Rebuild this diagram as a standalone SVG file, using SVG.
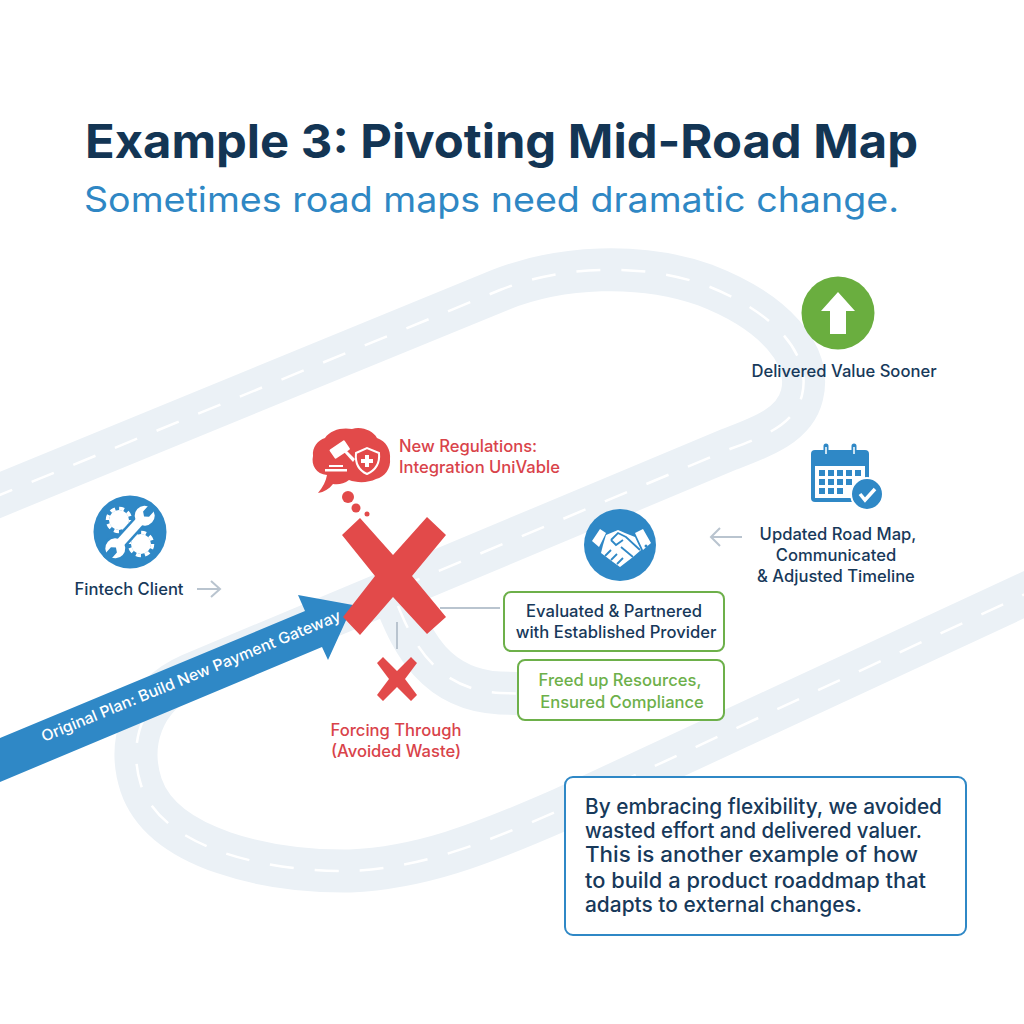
<svg xmlns="http://www.w3.org/2000/svg" width="1024" height="1024" viewBox="0 0 1024 1024">
<defs><style>
text{font-family:"Inter","Liberation Sans",sans-serif}
.road{fill:none;stroke:#ebf1f6;stroke-width:43}
.dash{fill:none;stroke:#fff;stroke-width:2.5;stroke-dasharray:24 21}
.con{fill:none;stroke:#b9c4cf;stroke-width:2}
.navy{fill:#17395a;font-weight:550;font-size:16.6px;text-anchor:middle}
.red{fill:#d9434a;font-weight:550;font-size:16.6px}
.box{fill:#fff;stroke:#6db04a;stroke-width:2}
</style></defs>
<rect width="1024" height="1024" fill="#fff"/>
<g id="roads">
<path class="road" d="M-10 499L500 290C560 266 640 262 705 285C775 312 812 355 802 395C795 425 762 437 730 449L190 675C140 697 128 745 141 785C163 850 270 872 350 871C420 868 480 845 560 810L1034 590"/>
<path class="road" d="M398 606C412 640 435 690 500 693L570 695"/>
<path class="dash" d="M-10 499L500 290C560 266 640 262 705 285C775 312 812 355 802 395C795 425 762 437 730 449L190 675C140 697 128 745 141 785C163 850 270 872 350 871C420 868 480 845 560 810L1034 590"/>
<path class="dash" d="M398 606C412 640 435 690 500 693L570 695"/>
</g>
<g id="title">
<text x="85" y="158" font-size="47" font-weight="700" fill="#133554" textLength="833" lengthAdjust="spacingAndGlyphs">Example 3: Pivoting Mid-Road Map</text>
<text x="84" y="212" font-size="35" fill="#2f87c4" textLength="815" lengthAdjust="spacingAndGlyphs">Sometimes road maps need dramatic change.</text>
</g>
<g id="connectors">
<path class="con" d="M197 589H219M211 581L220 589L211 597"/>
<path class="con" d="M742 537H711M720 528L711 537L720 546"/>
<path class="con" d="M397 622V649"/>
<path class="con" d="M440 608H500"/>
</g>
<g id="plan-arrow">
<polygon points="0,738 305,611 298,595 353,605 328,660 322,647 0,782" fill="#2f88c6"/>
<text transform="translate(193 681) rotate(-22.3)" text-anchor="middle" font-size="15.5" font-weight="500" fill="#fff" textLength="322" lengthAdjust="spacingAndGlyphs">Original Plan: Build New Payment Gateway</text>
</g>
<g id="fintech">
<circle cx="130" cy="532" r="36.5" fill="#2f88c6"/>
<g fill="#fff" stroke="#fff">
<circle cx="119" cy="520" r="10" stroke="none"/><circle cx="119" cy="520" r="11.5" fill="none" stroke-width="3.5" stroke-dasharray="5 4"/>
<circle cx="141" cy="544" r="10" stroke="none"/><circle cx="141" cy="544" r="11.5" fill="none" stroke-width="3.5" stroke-dasharray="5 4"/>
</g>
<g transform="translate(130 532) rotate(42)">
<rect x="-7" y="-24" width="14" height="48" fill="#2f88c6"/>
<circle cy="-22" r="12" fill="#2f88c6"/><circle cy="22" r="12" fill="#2f88c6"/>
<rect x="-4.5" y="-22" width="9" height="44" fill="#fff"/>
<circle cy="-22" r="10" fill="#fff"/><circle cy="22" r="10" fill="#fff"/>
<path d="M-4 -36H4V-24L0 -21L-4 -24ZM-4 36H4V24L0 21L-4 24Z" fill="#2f88c6"/>
</g>
<text class="navy" x="129" y="595">Fintech Client</text>
</g>
<g id="regulations">
<path d="M318 493C323 487 326 481 327 475C316 474 311 465 313 456C312 447 318 440 325 438C330 430 342 427 352 429C362 426 373 431 377 438C386 441 391 450 390 459C391 468 385 477 376 479C368 483 357 483 349 480C344 484 338 485 333 484C329 489 324 492 318 493Z" fill="#e24a4a"/>
<circle cx="348" cy="497" r="6" fill="#e24a4a"/><circle cx="356" cy="508" r="4.5" fill="#e24a4a"/><circle cx="367" cy="514" r="2.5" fill="#e24a4a"/>
<g fill="#fff">
<rect x="331" y="444" width="18" height="11" rx="1" transform="rotate(-34 340 450)"/>
<path d="M344 452L346 450L355 459L353 462Z"/>
<rect x="329" y="465" width="14" height="2"/><rect x="325" y="469" width="22" height="2.5"/>
</g>
<path d="M356 453L367 448L379 453C380 463 376 470 367 474C358 470 355 463 356 453Z" fill="#e24a4a" stroke="#fff" stroke-width="2"/>
<path d="M365 455H369V459H373V463H369V467H365V463H361V459H365Z" fill="#fff"/>
<text class="red" x="399" y="452">New Regulations:</text>
<text class="red" x="399" y="473">Integration UniVable</text>
</g>
<g id="big-x"><polygon points="360,518 393,555 427,517 446,535 412,576 446,617 427,634 393,597 360,635 343,617 375,576 342,535" fill="#e24a4a"/></g>
<g id="forcing">
<polygon points="383,657 397,671 411,657 417,663 405,679 417,695 411,701 397,687 383,701 377,695 389,679 377,663" fill="#e24a4a"/>
<text class="red" x="396" y="736" text-anchor="middle">Forcing Through</text>
<text class="red" x="396" y="757" text-anchor="middle">(Avoided Waste)</text>
</g>
<g id="partner">
<circle cx="620" cy="545" r="36" fill="#2f88c6"/>
<path d="M606 535L618 530L625 533L635 537L641 550L633 557L620 567L613 562L601 553L603 545Z" fill="#fff"/>
<path d="M592 541L600 529L606 533L599 547ZM635 533L643 529L651 543L643 550Z" fill="#fff"/>
<circle cx="646" cy="546" r="1.5" fill="#2f88c6"/>
<path d="M611 540L618 533L626 537L640 550M611 540L616 545L623 540M621 547L633 557M605 556L611 550M611 560L617 554M617 564L623 558" fill="none" stroke="#2f88c6" stroke-width="1.8"/>
</g>
<g id="evaluated">
<rect class="box" x="504" y="592" width="220" height="59" rx="7"/>
<text class="navy" x="614" y="617">Evaluated &amp; Partnered</text>
<text class="navy" x="616" y="638">with Established Provider</text>
</g>
<g id="freed">
<rect class="box" x="518" y="660" width="206" height="60" rx="7"/>
<text class="navy" x="620" y="686" style="fill:#6db04a">Freed up Resources,</text>
<text class="navy" x="622" y="708" style="fill:#6db04a">Ensured Compliance</text>
</g>
<g id="delivered">
<circle cx="838" cy="313" r="36.5" fill="#6aae3f"/>
<polygon points="838,292 855,311 846,311 846,334 830,334 830,311 821,311" fill="#fff"/>
<text class="navy" x="844" y="377">Delivered Value Sooner</text>
</g>
<g id="updated">
<rect x="811" y="450" width="58" height="52" rx="4" fill="#2f88c6"/>
<rect x="815" y="466" width="50" height="32" fill="#fff"/>
<path fill="#2f88c6" d="M819 470h6v6h-6zM828 470h6v6h-6zM837 470h6v6h-6zM846 470h6v6h-6zM855 470h6v6h-6zM819 479h6v6h-6zM828 479h6v6h-6zM837 479h6v6h-6zM846 479h6v6h-6zM819 488h6v6h-6zM828 488h6v6h-6zM837 488h6v6h-6z"/>
<path d="M826 446V456M854 446V456" stroke="#2f88c6" stroke-width="5" stroke-linecap="round"/>
<path d="M826 447V454M854 447V454" stroke="#fff" stroke-width="1.5"/>
<circle cx="867" cy="494" r="16" fill="#2f88c6" stroke="#fff" stroke-width="2"/>
<path d="M860 494L865 500L875 489" fill="none" stroke="#fff" stroke-width="3.5"/>
<text class="navy" x="838" y="540">Updated Road Map,</text>
<text class="navy" x="836" y="561">Communicated</text>
<text class="navy" x="836" y="582">&amp; Adjusted Timeline</text>
</g>
<g id="note">
<rect x="565" y="777" width="401" height="158" rx="8" fill="#fff" stroke="#2f88c6" stroke-width="2"/>
<g font-size="21" font-weight="450" fill="#17395a">
<text x="585" y="814" textLength="357" lengthAdjust="spacingAndGlyphs">By embracing flexibility, we avoided</text>
<text x="585" y="838" textLength="337" lengthAdjust="spacingAndGlyphs">wasted effort and delivered valuer.</text>
<text x="585" y="862" textLength="333" lengthAdjust="spacingAndGlyphs">This is another example of how</text>
<text x="585" y="888" textLength="341" lengthAdjust="spacingAndGlyphs">to build a product roaddmap that</text>
<text x="585" y="912" textLength="277" lengthAdjust="spacingAndGlyphs">adapts to external changes.</text>
</g>
</g>
</svg>
